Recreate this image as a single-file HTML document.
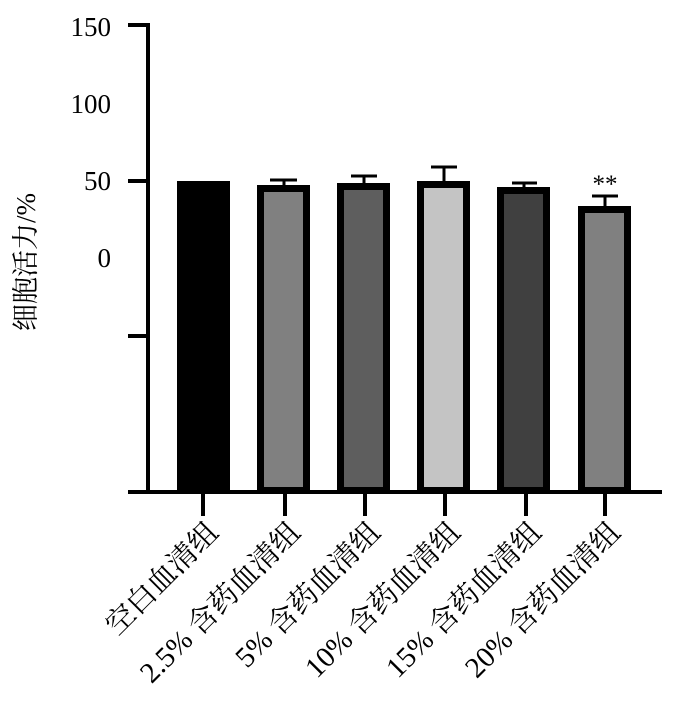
<!DOCTYPE html>
<html><head><meta charset="utf-8"><style>
html,body{margin:0;padding:0;background:#fff;}
text{font-family:"Liberation Serif","Noto Serif CJK SC",serif;fill:#000;}
</style></head><body>
<svg width="681" height="712" viewBox="0 0 681 712" xmlns="http://www.w3.org/2000/svg">
<g font-size="27" text-anchor="end">
<text x="111" y="36">150</text>
<text x="111" y="113">100</text>
<text x="111" y="190">50</text>
<text x="111" y="267">0</text>
</g>
<text transform="translate(35,262) rotate(-90)" font-size="27" text-anchor="middle">细胞活力/%</text>
<g stroke="#000" stroke-width="4" fill="none">
<line x1="148" y1="23" x2="148" y2="494"/>
<line x1="128" y1="25" x2="148" y2="25"/>
<line x1="128" y1="181" x2="148" y2="181"/>
<line x1="128" y1="336" x2="148" y2="336"/>
<line x1="128" y1="492" x2="662" y2="492"/>
<line x1="203" y1="492" x2="203" y2="516"/>
<line x1="285" y1="492" x2="285" y2="516"/>
<line x1="365" y1="492" x2="365" y2="516"/>
<line x1="445" y1="492" x2="445" y2="516"/>
<line x1="526" y1="492" x2="526" y2="516"/>
<line x1="605" y1="492" x2="605" y2="516"/>
</g>
<g stroke="#000" stroke-width="3">
<line x1="284" y1="185" x2="284" y2="180"/><line x1="270" y1="180" x2="297" y2="180"/>
<line x1="364" y1="183" x2="364" y2="176"/><line x1="351" y1="176" x2="377" y2="176"/>
<line x1="444" y1="181" x2="444" y2="167"/><line x1="431" y1="167" x2="457" y2="167"/>
<line x1="524" y1="188" x2="524" y2="183"/><line x1="512" y1="183" x2="537" y2="183"/>
<line x1="605" y1="206" x2="605" y2="196"/><line x1="592" y1="196" x2="618" y2="196"/>
</g>
<g stroke="#000" stroke-width="7">
<rect x="180.5" y="184.5" width="46" height="306" fill="#000"/>
<rect x="260.5" y="188.5" width="46" height="302" fill="#808080"/>
<rect x="340.5" y="186.5" width="46" height="304" fill="#5e5e5e"/>
<rect x="420.5" y="184.5" width="46" height="306" fill="#c4c4c4"/>
<rect x="500.5" y="190.5" width="46" height="300" fill="#404040"/>
<rect x="581.5" y="209.5" width="46" height="281" fill="#808080"/>
</g>
<text x="605" y="192" font-size="25" text-anchor="middle">**</text>
<g font-size="29" text-anchor="end">
<text transform="translate(220,534) rotate(-45)">空白血清组</text>
<text transform="translate(302,534) rotate(-45)">2.5% 含药血清组</text>
<text transform="translate(382,534) rotate(-45)">5% 含药血清组</text>
<text transform="translate(462,534) rotate(-45)">10% 含药血清组</text>
<text transform="translate(543,534) rotate(-45)">15% 含药血清组</text>
<text transform="translate(622,534) rotate(-45)">20% 含药血清组</text>
</g>
</svg>
</body></html>
